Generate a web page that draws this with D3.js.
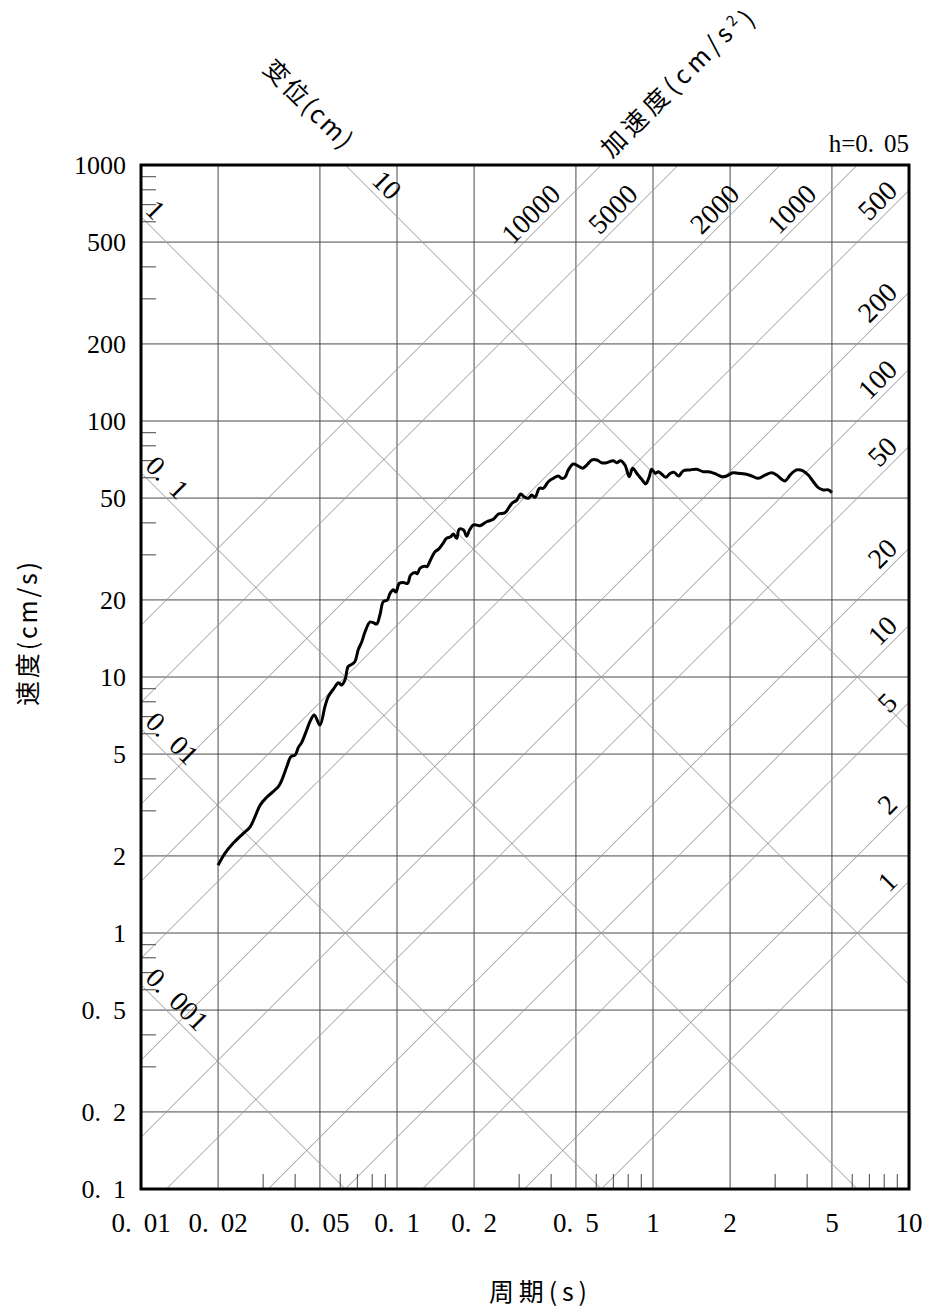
<!DOCTYPE html>
<html>
<head>
<meta charset="utf-8">
<script src="https://cdn.jsdelivr.net/npm/d3@7"></script>
<style>
  body { margin: 0; background: #fff; }
  text { fill: #000; }
</style>
</head>
<body>
<svg id="chart" width="930" height="1312"></svg>
<script>
// response spectrum, h=0.05
var periods = [0.0200,0.0213,0.0229,0.0251,0.0267,0.0279,0.0292,0.0310,0.0344,0.0355,
  0.0371,0.0385,0.0400,0.0412,0.0424,0.0444,0.0457,0.0475,0.0500,0.0523,
  0.0539,0.0567,0.0590,0.0608,0.0626,0.0645,0.0665,0.0685,0.0706,0.0728,
  0.0750,0.0784,0.0808,0.0833,0.0858,0.0884,0.0917,0.0939,0.0967,0.0991,
  0.102,0.106,0.110,0.113,0.118,0.120,0.123,0.128,0.131,0.135,
  0.141,0.145,0.152,0.156,0.162,0.166,0.171,0.175,0.182,0.187,
  0.192,0.199,0.211,0.224,0.238,0.249,0.264,0.281,0.294,0.304,
  0.316,0.326,0.336,0.346,0.360,0.373,0.390,0.408,0.427,0.440,
  0.453,0.467,0.488,0.511,0.531,0.551,0.576,0.603,0.630,0.659,
  0.700,0.721,0.748,0.777,0.808,0.833,0.864,0.903,0.937,0.967,
  0.988,1.02,1.05,1.08,1.12,1.17,1.21,1.26,1.31,1.39,
  1.48,1.57,1.67,1.77,1.86,1.94,2.05,2.15,2.29,2.43,
  2.58,2.74,2.91,3.04,3.28,3.43,3.64,3.84,4.04,4.23,
  4.42,4.63,4.84,5.00];
var velocities = [1.84,2.05,2.24,2.45,2.60,2.85,3.16,3.39,3.73,3.96,
  4.46,4.88,4.96,5.31,5.54,6.21,6.69,7.11,6.49,7.66,
  8.38,9.03,9.50,9.31,9.73,11.0,11.2,11.5,12.8,13.7,
  15.0,16.4,16.3,16.1,17.5,19.7,20.0,21.2,21.9,21.5,
  23.2,23.4,23.2,25.0,25.6,25.3,26.6,27.1,27.0,28.6,
  30.9,31.5,33.5,34.8,35.3,36.2,34.8,37.8,37.5,35.5,
  37.5,39.3,39.0,40.4,41.3,43.3,43.8,47.7,49.1,51.9,
  50.3,49.9,51.4,50.3,54.6,54.6,57.9,59.7,61.0,59.7,
  60.3,64.4,67.9,66.7,65.4,67.3,70.4,70.4,68.7,68.7,
  70.0,68.7,70.0,67.3,60.6,65.4,62.5,59.2,56.8,60.6,
  64.8,62.5,63.4,62.1,60.3,62.5,63.0,61.0,63.8,64.4,
  64.8,63.4,63.2,61.9,60.6,61.0,62.8,62.5,62.1,61.0,
  59.7,61.5,62.8,61.5,58.3,61.5,64.4,64.0,61.5,57.9,
  54.9,53.8,53.8,52.5];

var xTicks = [0.01,0.02,0.05,0.1,0.2,0.5,1,2,5,10];
var yTicks = [0.1,0.2,0.5,1,2,5,10,20,50,100,200,500,1000];
var dispValues = [0.001,0.01,0.1,1,10];          // cm
var accValues = [1,2,5,10,20,50,100,200,500,1000,2000,5000,10000]; // cm/s2
var minorSteps = [3,4,6,7,8,9];

var W = 930, H = 1312;
var pLeft = 141, pRight = 909, pTop = 165, pBottom = 1189;
var numFont = "'Liberation Serif', 'DejaVu Serif', serif";
var cjkFont = "'Noto Sans CJK SC', 'Noto Sans CJK JP', sans-serif";

var svg = d3.select("#chart");
svg.append("rect").attr("width", W).attr("height", H).attr("fill", "#fff");

var x = d3.scaleLog().domain([0.01, 10]).range([pLeft, pRight]);
var y = d3.scaleLog().domain([0.1, 1000]).range([pBottom, pTop]);

// "0.01" drawn with a wide gap after the point, like the original font
function numText(sel, s, gap) {
    var i = s.indexOf(".");
    if (i < 0) { sel.text(s); return; }
    sel.append("tspan").text(s.slice(0, i + 1));
    sel.append("tspan").attr("dx", gap).text(s.slice(i + 1));
}

var g = svg.append("g");

// vertical / horizontal grid
g.selectAll(".vgrid").data(xTicks.slice(1, -1)).enter().append("line")
    .attr("x1", d => x(d)).attr("x2", d => x(d))
    .attr("y1", pTop).attr("y2", pBottom)
    .attr("stroke", "#4a4a4a").attr("stroke-width", 1);
g.selectAll(".hgrid").data(yTicks.slice(1, -1)).enter().append("line")
    .attr("x1", pLeft).attr("x2", pRight)
    .attr("y1", d => y(d)).attr("y2", d => y(d))
    .attr("stroke", "#4a4a4a").attr("stroke-width", 1);

// displacement lines: V = 2*pi*D/T
var TWO_PI = 2 * Math.PI;
g.selectAll(".dline").data(dispValues).enter().append("line")
    .attr("x1", d => x(Math.max(0.01, TWO_PI * d / 1000)))
    .attr("y1", d => y(TWO_PI * d / Math.max(0.01, TWO_PI * d / 1000)))
    .attr("x2", d => x(Math.min(10, TWO_PI * d / 0.1)))
    .attr("y2", d => y(TWO_PI * d / Math.min(10, TWO_PI * d / 0.1)))
    .attr("stroke", "#999").attr("stroke-width", 1);

// acceleration lines: V = A*T/(2*pi)
g.selectAll(".aline").data(accValues).enter().append("line")
    .attr("x1", d => x(Math.max(0.01, TWO_PI * 0.1 / d)))
    .attr("y1", d => y(d * Math.max(0.01, TWO_PI * 0.1 / d) / TWO_PI))
    .attr("x2", d => x(Math.min(10, TWO_PI * 1000 / d)))
    .attr("y2", d => y(d * Math.min(10, TWO_PI * 1000 / d) / TWO_PI))
    .attr("stroke", "#999").attr("stroke-width", 1);

// minor ticks inside the frame
var xMinor = [], yMinor = [];
[0.01, 0.1, 1].forEach(function (dec) {
    minorSteps.forEach(function (s) { xMinor.push(dec * s); });
});
[0.1, 1, 10, 100].forEach(function (dec) {
    minorSteps.forEach(function (s) { yMinor.push(dec * s); });
});
g.selectAll(".xminor").data(xMinor).enter().append("line")
    .attr("x1", d => x(d)).attr("x2", d => x(d))
    .attr("y1", pBottom).attr("y2", pBottom - 15)
    .attr("stroke", "#444").attr("stroke-width", 1);
g.selectAll(".yminor").data(yMinor).enter().append("line")
    .attr("x1", pLeft).attr("x2", pLeft + 15)
    .attr("y1", d => y(d)).attr("y2", d => y(d))
    .attr("stroke", "#444").attr("stroke-width", 1);

// spectrum curve
var pts = periods.map(function (t, i) { return [t, velocities[i]]; });
var line = d3.line().x(d => x(d[0])).y(d => y(d[1])).curve(d3.curveCatmullRom.alpha(0.5));
g.append("path").datum(pts)
    .attr("d", line)
    .attr("fill", "none")
    .attr("stroke", "#000")
    .attr("stroke-width", 3)
    .attr("stroke-linejoin", "round");

// frame
g.append("rect")
    .attr("x", pLeft).attr("y", pTop)
    .attr("width", pRight - pLeft).attr("height", pBottom - pTop)
    .attr("fill", "none").attr("stroke", "#000").attr("stroke-width", 3);

// tick labels
svg.selectAll(".ylab").data(yTicks).enter().append("text")
    .attr("x", 126).attr("y", d => y(d)).attr("dy", "0.35em")
    .attr("text-anchor", "end")
    .style("font-family", numFont).style("font-size", "26px")
    .each(function (d) { numText(d3.select(this), String(d), 12); });

svg.selectAll(".xlab").data(xTicks).enter().append("text")
    .attr("x", d => x(d)).attr("y", 1232)
    .attr("text-anchor", "middle")
    .style("font-family", numFont).style("font-size", "27px")
    .each(function (d) { numText(d3.select(this), String(d), 12); });

// acceleration labels (rotated -45, sitting on their lines)
var off = 11;
svg.selectAll(".alab").data(accValues).enter().append("text")
    .attr("transform", function (a) {
        var px, py;
        if (a <= 500) {
            px = 903;
            py = y(a * x.invert(px) / TWO_PI);
        } else {
            py = 200;
            px = x(TWO_PI * y.invert(py) / a);
        }
        return "translate(" + (px - off) + "," + (py - off) + ") rotate(-45)";
    })
    .attr("dy", "0.35em")
    .attr("text-anchor", "end")
    .style("font-family", numFont).style("font-size", "28px")
    .text(d => String(d));

// displacement labels (rotated 45)
svg.selectAll(".dlab").data(dispValues).enter().append("text")
    .attr("transform", function (dv) {
        var px, py;
        if (dv >= 10) {
            py = 186;
            px = x(TWO_PI * dv / y.invert(py));
        } else {
            px = 140;
            py = y(TWO_PI * dv / x.invert(px));
        }
        return "translate(" + (px + off) + "," + (py - off) + ") rotate(45)";
    })
    .attr("dy", "0.35em")
    .attr("text-anchor", "start")
    .style("font-family", numFont).style("font-size", "28px")
    .each(function (d) { numText(d3.select(this), String(d), 12); });

// h label
svg.append("text")
    .attr("x", 909).attr("y", 152)
    .attr("text-anchor", "end")
    .style("font-family", numFont).style("font-size", "25px")
    .each(function () { numText(d3.select(this), "h=0.05", 10); });

// axis titles
svg.append("text")
    .attr("transform", "translate(28,634) rotate(-90)")
    .attr("dy", "0.35em").attr("text-anchor", "middle")
    .attr("textLength", 144).attr("lengthAdjust", "spacing")
    .style("font-family", cjkFont).style("font-size", "25px")
    .text("速度(cm/s)");

svg.append("text")
    .attr("x", 538).attr("y", 1292).attr("dy", "0.35em")
    .attr("text-anchor", "middle")
    .attr("textLength", 98).attr("lengthAdjust", "spacing")
    .style("font-family", cjkFont).style("font-size", "25px")
    .text("周期(s)");

svg.append("text")
    .attr("transform", "translate(308,104) rotate(45)")
    .attr("dy", "0.35em").attr("text-anchor", "middle")
    .attr("textLength", 114).attr("lengthAdjust", "spacing")
    .style("font-family", cjkFont).style("font-size", "25px")
    .text("变位(cm)");

var acc = svg.append("text")
    .attr("transform", "translate(676,82) rotate(-45)")
    .attr("dy", "0.35em").attr("text-anchor", "middle")
    .attr("textLength", 200).attr("lengthAdjust", "spacing")
    .style("font-family", cjkFont).style("font-size", "25px");
acc.append("tspan").text("加速度(cm/s");
acc.append("tspan").attr("dy", "-0.5em").style("font-size", "15px").text("2");
acc.append("tspan").attr("dy", "0.5em").text(")");
</script>
</body>
</html>
